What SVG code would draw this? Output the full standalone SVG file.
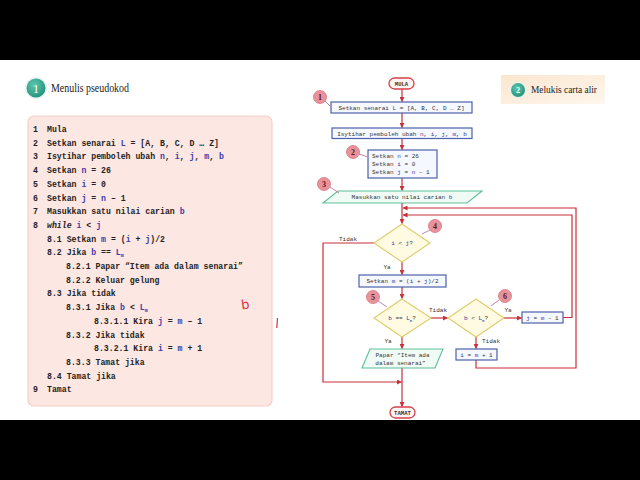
<svg xmlns="http://www.w3.org/2000/svg" width="640" height="480" viewBox="0 0 640 480">
<defs>
<marker id="ah" viewBox="0 0 6 6" refX="5.5" refY="3" markerWidth="5" markerHeight="5" orient="auto" markerUnits="userSpaceOnUse">
<path d="M0,0 L6,3 L0,6 z" fill="#c8303a"/>
</marker>
<radialGradient id="teal" cx="0.4" cy="0.35" r="0.7">
<stop offset="0" stop-color="#5cc8ae"/>
<stop offset="1" stop-color="#23907a"/>
</radialGradient>
<linearGradient id="peach" x1="0" y1="0" x2="1" y2="1">
<stop offset="0" stop-color="#fbe6cf"/>
<stop offset="1" stop-color="#fef7ee"/>
</linearGradient>
</defs>
<style>
.code{font-family:"Liberation Mono","DejaVu Sans Mono",monospace;font-size:8.2px;fill:#222;font-weight:bold}
.v{fill:#3b3ba8}
.fc{font-family:"Liberation Mono","DejaVu Sans Mono",monospace;font-size:6px;fill:#333}
.fcv{fill:#2e3aa0}
.term{fill:#fff4f4;stroke:#d8404a;stroke-width:1.3}
.termt{font-family:"Liberation Mono",monospace;font-size:5.6px;font-weight:bold;fill:#333}
.box{fill:#f6f8ff;stroke:#4d62aa;stroke-width:1.2}
.dia{fill:#fffbe2;stroke:#e0cc6a;stroke-width:1.1}
.io{fill:#f1fbf6;stroke:#5cbf98;stroke-width:1.1}
.ln{fill:none;stroke:#c8303a;stroke-width:1.2}
.arr{marker-end:url(#ah)}
.lbl{font-family:"Liberation Mono",monospace;font-size:6px;fill:#333}
.call{fill:#e8929a;stroke:#d77482;stroke-width:0.8}
.callt{font-family:"Liberation Serif",serif;font-size:8px;fill:#5a1a22;font-weight:bold}
.ptr{stroke:#c883a8;stroke-width:1;fill:none}
.hdr{font-family:"Liberation Serif",serif;fill:#222}
</style>
<rect x="0" y="0" width="640" height="480" fill="#ffffff"/>
<rect x="0" y="0" width="640" height="60" fill="#000"/>
<rect x="0" y="420" width="640" height="60" fill="#000"/>

<g id="header1">
<circle cx="36" cy="88" r="11" fill="#e6f4f0"/>
<circle cx="36" cy="88" r="9.5" fill="url(#teal)"/>
<text x="36" y="92.5" text-anchor="middle" class="hdr" font-size="12" style="fill:#fff">1</text>
<text x="51" y="92" class="hdr" font-size="12" textLength="78" lengthAdjust="spacingAndGlyphs">Menulis pseudokod</text>
</g>

<g id="pseudocode">
<rect x="28" y="116" width="244" height="290" rx="6" fill="#fde7e3" stroke="#f6cfca" stroke-width="1.2"/>
<g class="code">
<text x="33" y="132">1</text><text x="47" y="132">Mula</text>
<text x="33" y="145.7">2</text><text x="47" y="145.7">Setkan senarai <tspan class="v">L</tspan> = [A, B, C, D … Z]</text>
<text x="33" y="159.4">3</text><text x="47" y="159.4">Isytihar pemboleh ubah <tspan class="v">n</tspan>, <tspan class="v">i</tspan>, <tspan class="v">j</tspan>, <tspan class="v">m</tspan>, <tspan class="v">b</tspan></text>
<text x="33" y="173.1">4</text><text x="47" y="173.1">Setkan <tspan class="v">n</tspan> = 26</text>
<text x="33" y="186.8">5</text><text x="47" y="186.8">Setkan <tspan class="v">i</tspan> = 0</text>
<text x="33" y="200.5">6</text><text x="47" y="200.5">Setkan <tspan class="v">j</tspan> = <tspan class="v">n</tspan> – 1</text>
<text x="33" y="214.2">7</text><text x="47" y="214.2">Masukkan satu nilai carian <tspan class="v">b</tspan></text>
<text x="33" y="227.9">8</text><text x="47" y="227.9"><tspan font-style="italic">while</tspan> <tspan class="v">i</tspan> &lt; <tspan class="v">j</tspan></text>
<text x="47" y="241.6">8.1 Setkan <tspan class="v">m</tspan> = (<tspan class="v">i</tspan> + <tspan class="v">j</tspan>)/2</text>
<text x="47" y="255.3">8.2 Jika <tspan class="v">b</tspan> == <tspan class="v">L</tspan><tspan class="v" font-size="5" dy="2">m</tspan></text>
<text x="66" y="269">8.2.1 Papar “Item ada dalam senarai”</text>
<text x="66" y="282.7">8.2.2 Keluar gelung</text>
<text x="47" y="296.4">8.3 Jika tidak</text>
<text x="66" y="310.1">8.3.1 Jika <tspan class="v">b</tspan> &lt; <tspan class="v">L</tspan><tspan class="v" font-size="5" dy="2">m</tspan></text>
<text x="94" y="323.8">8.3.1.1 Kira <tspan class="v">j</tspan> = <tspan class="v">m</tspan> – 1</text>
<text x="66" y="337.5">8.3.2 Jika tidak</text>
<text x="94" y="351.2">8.3.2.1 Kira <tspan class="v">i</tspan> = <tspan class="v">m</tspan> + 1</text>
<text x="66" y="364.9">8.3.3 Tamat jika</text>
<text x="47" y="378.6">8.4 Tamat jika</text>
<text x="33" y="392.3">9</text><text x="47" y="392.3">Tamat</text>
</g>
</g>

<g id="annotations">
<text x="241" y="309" font-family="DejaVu Sans, sans-serif" font-size="13" fill="#e0303c" transform="rotate(-8 245 303)">b</text>
<path d="M277.5,318 L276.8,328" stroke="#e0303c" stroke-width="1.2" fill="none"/>
</g>

<g id="header2">
<rect x="501" y="75" width="104" height="29" fill="url(#peach)"/>
<circle cx="518" cy="90" r="8" fill="#e9f3ee"/>
<circle cx="518" cy="90" r="7" fill="url(#teal)"/>
<text x="518" y="93" text-anchor="middle" class="hdr" font-size="8.5" style="fill:#fff" font-weight="bold">2</text>
<text x="531" y="93" class="hdr" font-size="9.6" textLength="66" lengthAdjust="spacingAndGlyphs">Melukis carta alir</text>
</g>

<g id="connectors">
<path class="ln arr" d="M402,89 V101.5"/>
<path class="ln arr" d="M402,113 V127.5"/>
<path class="ln arr" d="M402,138.5 V149.5"/>
<path class="ln arr" d="M402,178 V190.5"/>
<path class="ln arr" d="M402,203 V223.5"/>
<path class="ln arr" d="M374,243 H323 V382 H401.5"/>
<path class="ln arr" d="M402,262 V274.5"/>
<path class="ln arr" d="M402,287 V298.5"/>
<path class="ln arr" d="M431,318 H447.5"/>
<path class="ln arr" d="M504,318 H521.5"/>
<path class="ln arr" d="M476,337 V348.5"/>
<path class="ln arr" d="M402,337 V348.5"/>
<path class="ln arr" d="M402,368 V406.5"/>
<path class="ln arr" d="M563,317.5 H572 V215 H403"/>
<path class="ln arr" d="M476,360 V368 H576 V208 H403"/>
<text class="lbl" x="348" y="240.5" text-anchor="middle">Tidak</text>
<text class="lbl" x="387" y="268.5" text-anchor="middle">Ya</text>
<text class="lbl" x="438" y="312" text-anchor="middle">Tidak</text>
<text class="lbl" x="508" y="312" text-anchor="middle">Ya</text>
<text class="lbl" x="491" y="342.5" text-anchor="middle">Tidak</text>
<text class="lbl" x="388" y="342.5" text-anchor="middle">Ya</text>
</g>

<g id="mula">
<rect class="term" x="389" y="78" width="25" height="11" rx="5.5"/>
<text class="termt" x="401.5" y="85.5" text-anchor="middle">MULA</text>
</g>
<g id="setkan-senarai">
<rect class="box" x="331" y="102" width="141" height="11"/>
<text class="fc" x="401.5" y="109.8" text-anchor="middle">Setkan senarai <tspan class="fcv">L</tspan> = [A, B, C, D … Z]</text>
</g>
<g id="isytihar">
<rect class="box" x="332" y="128" width="140" height="10.5"/>
<text class="fc" x="402" y="135.5" text-anchor="middle">Isytihar pemboleh ubah <tspan class="fcv">n</tspan>, <tspan class="fcv">i</tspan>, <tspan class="fcv">j</tspan>, <tspan class="fcv">m</tspan>, <tspan class="fcv">b</tspan></text>
</g>
<g id="setkan-nij">
<rect class="box" x="368" y="150" width="69" height="28"/>
<text class="fc" x="372" y="158">Setkan <tspan class="fcv">n</tspan> = 26</text>
<text class="fc" x="372" y="166">Setkan <tspan class="fcv">i</tspan> = 0</text>
<text class="fc" x="372" y="174">Setkan <tspan class="fcv">j</tspan> = <tspan class="fcv">n</tspan> – 1</text>
</g>
<g id="masukkan">
<polygon class="io" points="338,191 482,191 467,203 323,203"/>
<text class="fc" x="402" y="199" text-anchor="middle">Masukkan satu nilai carian <tspan class="fcv">b</tspan></text>
</g>
<g id="dec-ij">
<polygon class="dia" points="402,224 430,243 402,262 374,243"/>
<text class="fc" x="402" y="245" text-anchor="middle"><tspan class="fcv">i</tspan> &lt; <tspan class="fcv">j</tspan>?</text>
</g>
<g id="setkan-m">
<rect class="box" x="359" y="275" width="87" height="12"/>
<text class="fc" x="402.5" y="283" text-anchor="middle">Setkan <tspan class="fcv">m</tspan> = (<tspan class="fcv">i</tspan> + <tspan class="fcv">j</tspan>)/2</text>
</g>
<g id="dec-eq">
<polygon class="dia" points="402,299 431,318 402,337 374,318"/>
<text class="fc" x="402" y="320" text-anchor="middle"><tspan class="fcv">b</tspan> == <tspan class="fcv">L</tspan><tspan class="fcv" font-size="4" dy="1.5">m</tspan><tspan dy="-1.5">?</tspan></text>
</g>
<g id="dec-lt">
<polygon class="dia" points="476,299 504,318 476,337 448,318"/>
<text class="fc" x="476" y="320" text-anchor="middle"><tspan class="fcv">b</tspan> &lt; <tspan class="fcv">L</tspan><tspan class="fcv" font-size="4" dy="1.5">m</tspan><tspan dy="-1.5">?</tspan></text>
</g>
<g id="j-box">
<rect class="box" x="522" y="312" width="41" height="11"/>
<text class="fc" x="542.5" y="319.8" text-anchor="middle"><tspan class="fcv">j</tspan> = <tspan class="fcv">m</tspan> – 1</text>
</g>
<g id="i-box">
<rect class="box" x="456" y="349" width="41" height="11"/>
<text class="fc" x="476.5" y="356.8" text-anchor="middle"><tspan class="fcv">i</tspan> = <tspan class="fcv">m</tspan> + 1</text>
</g>
<g id="papar">
<polygon class="io" points="370,349 443,349 435,368 362,368"/>
<text class="fc" x="402.5" y="357" text-anchor="middle">Papar “Item ada</text>
<text class="fc" x="400.5" y="365" text-anchor="middle">dalam senarai”</text>
</g>
<g id="tamat">
<rect class="term" x="390" y="407" width="25" height="11" rx="5.5"/>
<text class="termt" x="402.5" y="414.5" text-anchor="middle">TAMAT</text>
</g>

<g id="callouts">
<path class="ptr" d="M325,101 L331,107"/>
<path class="ptr" d="M359,154 L368,157"/>
<path class="ptr" d="M330,187 L339,193"/>
<path class="ptr" d="M430,230 L422,234"/>
<path class="ptr" d="M378,301 L387,307"/>
<path class="ptr" d="M499,300 L491,306"/>
<g id="c1"><circle class="call" cx="320" cy="97" r="6.5"/><text class="callt" x="320" y="100" text-anchor="middle">1</text></g>
<g id="c2"><circle class="call" cx="353" cy="152" r="6.5"/><text class="callt" x="353" y="155" text-anchor="middle">2</text></g>
<g id="c3"><circle class="call" cx="324" cy="184" r="6.5"/><text class="callt" x="324" y="187" text-anchor="middle">3</text></g>
<g id="c4"><circle class="call" cx="435" cy="226" r="6.5"/><text class="callt" x="435" y="229" text-anchor="middle">4</text></g>
<g id="c5"><circle class="call" cx="373" cy="297" r="6.5"/><text class="callt" x="373" y="300" text-anchor="middle">5</text></g>
<g id="c6"><circle class="call" cx="505" cy="296" r="6.5"/><text class="callt" x="505" y="299" text-anchor="middle">6</text></g>
</g>
</svg>
